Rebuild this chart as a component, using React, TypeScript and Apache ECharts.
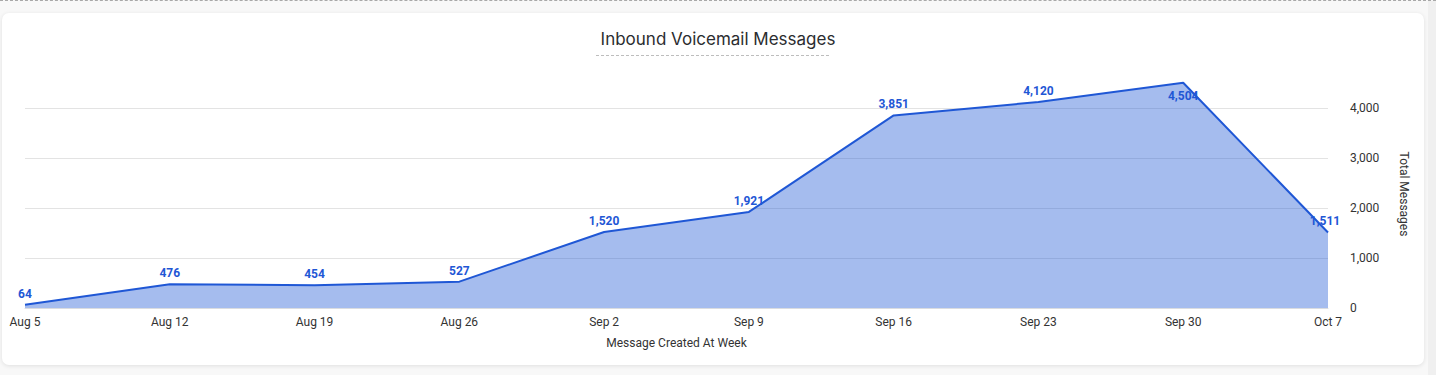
import React, { useEffect, useRef } from "react";
import * as echarts from "echarts";

const categories = ["Aug 5", "Aug 12", "Aug 19", "Aug 26", "Sep 2", "Sep 9", "Sep 16", "Sep 23", "Sep 30", "Oct 7"];
const totalMessages = [64, 476, 454, 527, 1520, 1921, 3851, 4120, 4504, 1511];
const yTicks = [0, 1000, 2000, 3000, 4000];

const LINE = "#1f57d5";

export default function App() {
  const ref = useRef<HTMLDivElement>(null);
  useEffect(() => {
    document.body.style.margin = "0";
    const chart = echarts.init(ref.current!, null, { renderer: "svg" });
    const fmt = (v: number) => v.toLocaleString("en-US");
    const data = totalMessages.map((v, i) => {
      if (i === 8) return { value: v, label: { position: "bottom", distance: 7 } };
      if (i === totalMessages.length - 1) return { value: v, label: { offset: [-3, 0] } };
      return { value: v };
    });
    chart.setOption({
      animation: false,
      textStyle: { fontFamily: "Roboto" },
      title: {
        text: "Inbound Voicemail Messages",
        left: "center",
        top: 25,
        textStyle: { fontFamily: "Inter", fontSize: 17, fontWeight: "normal", color: "#2b2d30" },
      },
      grid: { left: 25, right: 108, top: 58, bottom: 67, containLabel: false },
      xAxis: {
        type: "category",
        data: categories,
        boundaryGap: false,
        name: "Message Created At Week",
        nameLocation: "middle",
        nameGap: 29,
        nameTextStyle: { fontSize: 12, color: "#333", fontFamily: "Roboto" },
        axisLine: { show: true, lineStyle: { color: "#dadce0" } },
        axisTick: { show: false },
        axisLabel: { fontSize: 12, color: "#333", margin: 8, fontFamily: "Roboto" },
        splitLine: { show: false },
      },
      yAxis: {
        type: "value",
        position: "right",
        min: 0,
        max: 5000,
        interval: 1000,
        axisLine: { show: false },
        axisTick: { show: false },
        axisLabel: {
          fontSize: 12,
          color: "#333",
          margin: 22,
          align: "left",
          showMaxLabel: false,
          fontFamily: "Roboto",
          formatter: (v: number) => (yTicks.includes(v) ? fmt(v) : ""),
        },
        splitLine: { show: true, showMaxLine: false, lineStyle: { color: "#e3e3e3", width: 1 } },
      },
      series: [
        {
          type: "line",
          data,
          showSymbol: true,
          symbol: "circle",
          symbolSize: 0.01,
          lineStyle: { color: LINE, width: 2 },
          itemStyle: { color: LINE },
          areaStyle: { color: LINE, opacity: 0.4 },
          label: {
            show: true,
            position: "top",
            distance: 5,
            color: LINE,
            fontSize: 12,
            fontWeight: "bold",
            fontFamily: "Roboto",
            formatter: (p: any) => fmt(p.value),
          },
        },
      ],
      graphic: [
        {
          type: "line",
          shape: { x1: 596, y1: 55.5, x2: 831, y2: 55.5 },
          style: { stroke: "#bdbdbd", lineWidth: 1, lineDash: [3, 2] },
          silent: true,
        },
        {
          type: "text",
          x: 1404,
          y: 194,
          rotation: -Math.PI / 2,
          style: {
            text: "Total Messages",
            fill: "#333",
            fontSize: 12,
            fontFamily: "Roboto",
            align: "center",
            verticalAlign: "middle",
          },
          silent: true,
        },
      ],
    });
    return () => chart.dispose();
  }, []);

  return (
    <div style={{ position: "relative", width: 1436, height: 375, background: "#f8f8f8", overflow: "hidden" }}>
      <div style={{ position: "absolute", left: 0, top: 0, width: 1436, height: 0, borderTop: "1px dashed #a8a8a8" }} />
      <div style={{ position: "absolute", left: 1428, top: 1, width: 8, height: 374, background: "#f0f0f0" }} />
      <div
        style={{
          position: "absolute",
          left: 2,
          top: 13,
          width: 1422,
          height: 352,
          background: "#fff",
          borderRadius: 7,
          boxShadow: "0 1px 4px rgba(0,0,0,0.10)",
        }}
      />
      <div ref={ref} style={{ position: "absolute", left: 0, top: 0, width: 1436, height: 375 }} />
    </div>
  );
}
